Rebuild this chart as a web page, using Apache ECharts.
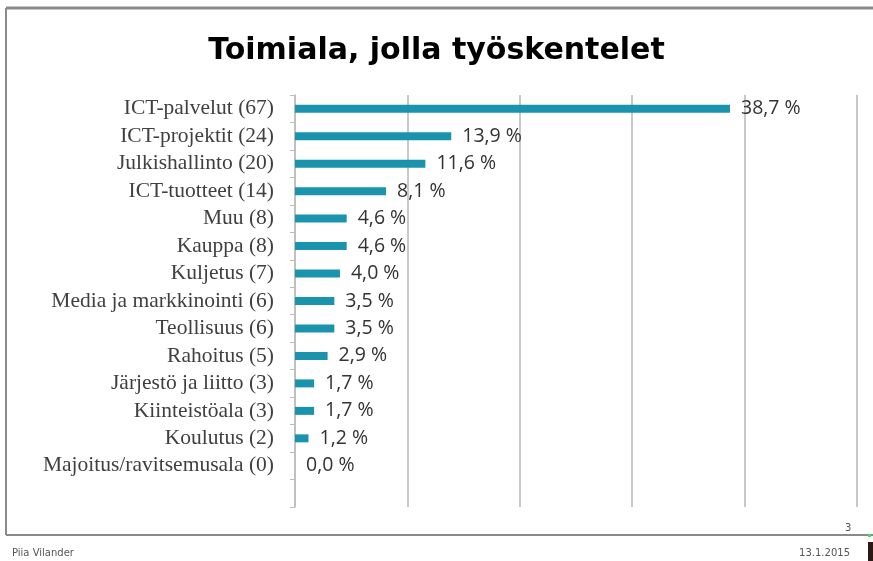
<!DOCTYPE html>
<html>
<head>
<meta charset="utf-8">
<script src="https://cdn.jsdelivr.net/npm/echarts@6/dist/echarts.min.js"></script>
<style>
html,body{margin:0;padding:0;background:#fff;}
#chart{width:873px;height:561px;}
</style>
</head>
<body>
<div id="chart"></div>
<script>
const categories = [
  'ICT-palvelut (67)', 'ICT-projektit (24)', 'Julkishallinto (20)', 'ICT-tuotteet (14)',
  'Muu (8)', 'Kauppa (8)', 'Kuljetus (7)', 'Media ja markkinointi (6)', 'Teollisuus (6)',
  'Rahoitus (5)', 'Järjestö ja liitto (3)', 'Kiinteistöala (3)', 'Koulutus (2)',
  'Majoitus/ravitsemusala (0)', ''
];
const values = [38.7, 13.9, 11.6, 8.1, 4.6, 4.6, 4.0, 3.5, 3.5, 2.9, 1.7, 1.7, 1.2, 0.0, null];
const xTicks = [0, 10, 20, 30, 40, 50];
const titleText = 'Toimiala, jolla työskentelet';
const footerLeft = 'Piia Vilander';
const footerRight = '13.1.2015';
const pageNo = '3';

const chart = echarts.init(document.getElementById('chart'));
chart.setOption({
  animation: false,
  backgroundColor: '#ffffff',
  title: {
    text: titleText,
    left: 'center',
    top: 31,
    textStyle: { fontFamily: 'DejaVu Sans', fontWeight: 'bold', fontSize: 30, color: '#000' }
  },
  grid: { left: 295, right: 16, top: 95, height: 412, containLabel: false },
  xAxis: {
    type: 'value',
    min: xTicks[0], max: xTicks[xTicks.length - 1], interval: 10,
    axisLine: { show: false }, axisTick: { show: false }, axisLabel: { show: false },
    splitLine: { show: true, lineStyle: { color: '#c9c9c9', width: 2 } }
  },
  yAxis: {
    type: 'category',
    inverse: true,
    data: categories,
    axisLine: { show: true, lineStyle: { color: '#bdbdbd', width: 1.5 } },
    axisTick: { show: true, interval: 0, length: 5, lineStyle: { color: '#bdbdbd' } },
    axisLabel: { interval: 0, fontFamily: 'Liberation Serif', fontSize: 21.5, color: '#404040', margin: 21 }
  },
  series: [{
    type: 'bar',
    data: values,
    barWidth: 8,
    itemStyle: { color: '#1a94ad' },
    label: {
      show: true, position: 'right', distance: 11,
      fontFamily: 'Open Sans', fontSize: 19.5, color: '#333',
      formatter: p => p.value == null ? '' : p.value.toFixed(1).replace('.', ',') + ' %'
    }
  }],
  graphic: [
    { type: 'line', shape: { x1: 6, y1: 8, x2: 873, y2: 8 }, style: { stroke: '#8a8a8a', lineWidth: 3 } },
    { type: 'line', shape: { x1: 6, y1: 8, x2: 6, y2: 535 }, style: { stroke: '#8a8a8a', lineWidth: 2 } },
    { type: 'line', shape: { x1: 6, y1: 535, x2: 873, y2: 535 }, style: { stroke: '#8a8a8a', lineWidth: 2 } },
    { type: 'text', left: 12, top: 548, style: { text: footerLeft, font: '10px "DejaVu Sans"', fill: '#555' } },
    { type: 'text', right: 23, top: 548, style: { text: footerRight, font: '10px "DejaVu Sans"', fill: '#555' } },
    { type: 'text', left: 845, top: 523, style: { text: pageNo, font: '10px "DejaVu Sans"', fill: '#555' } },
    { type: 'rect', shape: { x: 868, y: 542, width: 5, height: 19 }, style: { fill: '#2a1a12' } },
    { type: 'rect', shape: { x: 868, y: 534, width: 3, height: 3 }, style: { fill: '#5fcf5f' } }
  ]
});
</script>
</body>
</html>
